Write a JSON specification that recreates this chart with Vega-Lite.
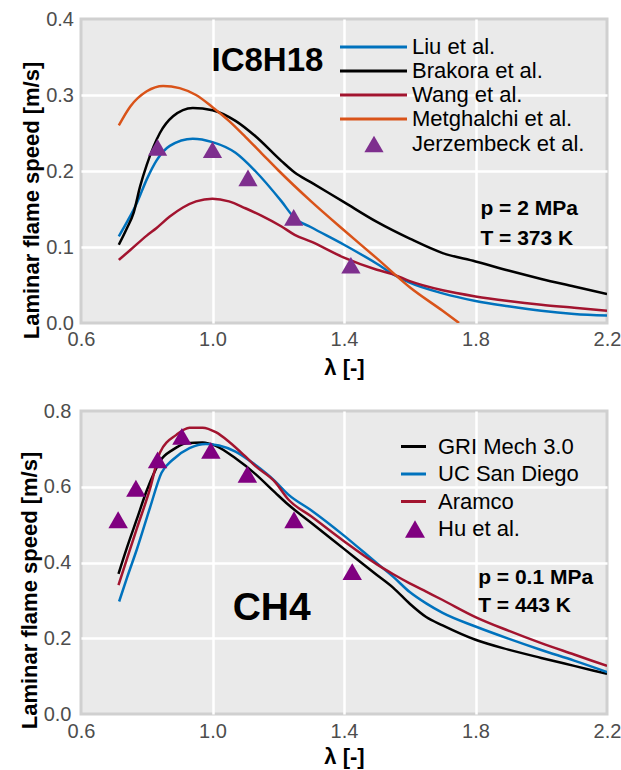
{
  "$schema": "https://vega.github.io/schema/vega-lite/v6.json",
  "padding": {"top": 7, "left": 16, "right": 0, "bottom": 0},
  "background": "white",
  "spacing": 19,
  "datasets": {
    "topLines": [
      {"m":"Liu et al.","l":0.715,"v":0.114},{"m":"Liu et al.","l":0.74,"v":0.133},{"m":"Liu et al.","l":0.77,"v":0.158},{"m":"Liu et al.","l":0.80,"v":0.189},{"m":"Liu et al.","l":0.83,"v":0.214},{"m":"Liu et al.","l":0.87,"v":0.233},{"m":"Liu et al.","l":0.94,"v":0.2425},{"m":"Liu et al.","l":1.00,"v":0.238},{"m":"Liu et al.","l":1.07,"v":0.224},{"m":"Liu et al.","l":1.13,"v":0.200},{"m":"Liu et al.","l":1.21,"v":0.160},{"m":"Liu et al.","l":1.25,"v":0.138},{"m":"Liu et al.","l":1.30,"v":0.126},{"m":"Liu et al.","l":1.40,"v":0.103},{"m":"Liu et al.","l":1.50,"v":0.078},{"m":"Liu et al.","l":1.55,"v":0.064},{"m":"Liu et al.","l":1.60,"v":0.053},{"m":"Liu et al.","l":1.70,"v":0.039},{"m":"Liu et al.","l":1.80,"v":0.029},{"m":"Liu et al.","l":1.90,"v":0.022},{"m":"Liu et al.","l":2.00,"v":0.016},{"m":"Liu et al.","l":2.10,"v":0.012},{"m":"Liu et al.","l":2.20,"v":0.010},
      {"m":"Brakora et al.","l":0.715,"v":0.103},{"m":"Brakora et al.","l":0.74,"v":0.125},{"m":"Brakora et al.","l":0.76,"v":0.145},{"m":"Brakora et al.","l":0.78,"v":0.180},{"m":"Brakora et al.","l":0.80,"v":0.208},{"m":"Brakora et al.","l":0.84,"v":0.250},{"m":"Brakora et al.","l":0.88,"v":0.272},{"m":"Brakora et al.","l":0.94,"v":0.283},{"m":"Brakora et al.","l":1.00,"v":0.280},{"m":"Brakora et al.","l":1.07,"v":0.266},{"m":"Brakora et al.","l":1.13,"v":0.246},{"m":"Brakora et al.","l":1.21,"v":0.213},{"m":"Brakora et al.","l":1.25,"v":0.198},{"m":"Brakora et al.","l":1.30,"v":0.185},{"m":"Brakora et al.","l":1.40,"v":0.159},{"m":"Brakora et al.","l":1.50,"v":0.133},{"m":"Brakora et al.","l":1.60,"v":0.111},{"m":"Brakora et al.","l":1.70,"v":0.092},{"m":"Brakora et al.","l":1.80,"v":0.081},{"m":"Brakora et al.","l":1.90,"v":0.069},{"m":"Brakora et al.","l":2.00,"v":0.058},{"m":"Brakora et al.","l":2.10,"v":0.048},{"m":"Brakora et al.","l":2.20,"v":0.038},
      {"m":"Wang et al.","l":0.715,"v":0.083},{"m":"Wang et al.","l":0.75,"v":0.096},{"m":"Wang et al.","l":0.80,"v":0.115},{"m":"Wang et al.","l":0.83,"v":0.125},{"m":"Wang et al.","l":0.87,"v":0.140},{"m":"Wang et al.","l":0.91,"v":0.152},{"m":"Wang et al.","l":0.95,"v":0.160},{"m":"Wang et al.","l":1.00,"v":0.1635},{"m":"Wang et al.","l":1.05,"v":0.160},{"m":"Wang et al.","l":1.10,"v":0.151},{"m":"Wang et al.","l":1.15,"v":0.141},{"m":"Wang et al.","l":1.21,"v":0.127},{"m":"Wang et al.","l":1.25,"v":0.116},{"m":"Wang et al.","l":1.30,"v":0.107},{"m":"Wang et al.","l":1.40,"v":0.086},{"m":"Wang et al.","l":1.50,"v":0.070},{"m":"Wang et al.","l":1.55,"v":0.064},{"m":"Wang et al.","l":1.60,"v":0.055},{"m":"Wang et al.","l":1.70,"v":0.043},{"m":"Wang et al.","l":1.80,"v":0.035},{"m":"Wang et al.","l":1.90,"v":0.029},{"m":"Wang et al.","l":2.00,"v":0.024},{"m":"Wang et al.","l":2.10,"v":0.020},{"m":"Wang et al.","l":2.20,"v":0.016},
      {"m":"Metghalchi et al.","l":0.715,"v":0.260},{"m":"Metghalchi et al.","l":0.75,"v":0.285},{"m":"Metghalchi et al.","l":0.80,"v":0.305},{"m":"Metghalchi et al.","l":0.85,"v":0.312},{"m":"Metghalchi et al.","l":0.90,"v":0.309},{"m":"Metghalchi et al.","l":0.95,"v":0.300},{"m":"Metghalchi et al.","l":1.00,"v":0.284},{"m":"Metghalchi et al.","l":1.05,"v":0.266},{"m":"Metghalchi et al.","l":1.10,"v":0.245},{"m":"Metghalchi et al.","l":1.15,"v":0.223},{"m":"Metghalchi et al.","l":1.20,"v":0.201},{"m":"Metghalchi et al.","l":1.30,"v":0.160},{"m":"Metghalchi et al.","l":1.40,"v":0.122},{"m":"Metghalchi et al.","l":1.50,"v":0.085},{"m":"Metghalchi et al.","l":1.60,"v":0.047},{"m":"Metghalchi et al.","l":1.70,"v":0.016},{"m":"Metghalchi et al.","l":1.75,"v":0.0}
    ],
    "topPts": [
      {"e":"Jerzembeck et al.","l":0.833,"v":0.231},{"e":"Jerzembeck et al.","l":1.0,"v":0.228},{"e":"Jerzembeck et al.","l":1.108,"v":0.191},{"e":"Jerzembeck et al.","l":1.247,"v":0.139},{"e":"Jerzembeck et al.","l":1.421,"v":0.076}
    ],
    "topFuel": [{"l":1.167,"v":0.345,"t":"IC8H18"}],
    "topCond": [{"l":1.815,"v":0.150,"t":"p = 2 MPa"},{"l":1.815,"v":0.1105,"t":"T = 373 K"}],
    "botLines": [
      {"m":"GRI Mech 3.0","l":0.714,"v":0.370},{"m":"GRI Mech 3.0","l":0.74,"v":0.440},{"m":"GRI Mech 3.0","l":0.77,"v":0.515},{"m":"GRI Mech 3.0","l":0.80,"v":0.590},{"m":"GRI Mech 3.0","l":0.82,"v":0.632},{"m":"GRI Mech 3.0","l":0.84,"v":0.667},{"m":"GRI Mech 3.0","l":0.88,"v":0.698},{"m":"GRI Mech 3.0","l":0.92,"v":0.715},{"m":"GRI Mech 3.0","l":0.97,"v":0.717},{"m":"GRI Mech 3.0","l":1.01,"v":0.708},{"m":"GRI Mech 3.0","l":1.07,"v":0.675},{"m":"GRI Mech 3.0","l":1.13,"v":0.634},{"m":"GRI Mech 3.0","l":1.19,"v":0.585},{"m":"GRI Mech 3.0","l":1.23,"v":0.553},{"m":"GRI Mech 3.0","l":1.30,"v":0.505},{"m":"GRI Mech 3.0","l":1.40,"v":0.436},{"m":"GRI Mech 3.0","l":1.50,"v":0.367},{"m":"GRI Mech 3.0","l":1.55,"v":0.333},{"m":"GRI Mech 3.0","l":1.60,"v":0.291},{"m":"GRI Mech 3.0","l":1.65,"v":0.256},{"m":"GRI Mech 3.0","l":1.70,"v":0.234},{"m":"GRI Mech 3.0","l":1.80,"v":0.196},{"m":"GRI Mech 3.0","l":1.90,"v":0.170},{"m":"GRI Mech 3.0","l":2.00,"v":0.148},{"m":"GRI Mech 3.0","l":2.10,"v":0.127},{"m":"GRI Mech 3.0","l":2.20,"v":0.106},
      {"m":"UC San Diego","l":0.716,"v":0.297},{"m":"UC San Diego","l":0.74,"v":0.360},{"m":"UC San Diego","l":0.77,"v":0.435},{"m":"UC San Diego","l":0.81,"v":0.545},{"m":"UC San Diego","l":0.845,"v":0.637},{"m":"UC San Diego","l":0.88,"v":0.672},{"m":"UC San Diego","l":0.93,"v":0.702},{"m":"UC San Diego","l":0.98,"v":0.713},{"m":"UC San Diego","l":1.02,"v":0.709},{"m":"UC San Diego","l":1.07,"v":0.693},{"m":"UC San Diego","l":1.13,"v":0.658},{"m":"UC San Diego","l":1.19,"v":0.615},{"m":"UC San Diego","l":1.23,"v":0.580},{"m":"UC San Diego","l":1.30,"v":0.538},{"m":"UC San Diego","l":1.40,"v":0.471},{"m":"UC San Diego","l":1.50,"v":0.398},{"m":"UC San Diego","l":1.55,"v":0.362},{"m":"UC San Diego","l":1.60,"v":0.322},{"m":"UC San Diego","l":1.65,"v":0.292},{"m":"UC San Diego","l":1.70,"v":0.267},{"m":"UC San Diego","l":1.80,"v":0.231},{"m":"UC San Diego","l":1.90,"v":0.199},{"m":"UC San Diego","l":2.00,"v":0.169},{"m":"UC San Diego","l":2.10,"v":0.141},{"m":"UC San Diego","l":2.20,"v":0.111},
      {"m":"Aramco","l":0.714,"v":0.340},{"m":"Aramco","l":0.74,"v":0.410},{"m":"Aramco","l":0.77,"v":0.490},{"m":"Aramco","l":0.81,"v":0.595},{"m":"Aramco","l":0.84,"v":0.690},{"m":"Aramco","l":0.89,"v":0.737},{"m":"Aramco","l":0.93,"v":0.756},{"m":"Aramco","l":0.97,"v":0.756},{"m":"Aramco","l":1.01,"v":0.744},{"m":"Aramco","l":1.05,"v":0.719},{"m":"Aramco","l":1.10,"v":0.680},{"m":"Aramco","l":1.13,"v":0.655},{"m":"Aramco","l":1.19,"v":0.613},{"m":"Aramco","l":1.23,"v":0.567},{"m":"Aramco","l":1.30,"v":0.522},{"m":"Aramco","l":1.40,"v":0.456},{"m":"Aramco","l":1.50,"v":0.395},{"m":"Aramco","l":1.55,"v":0.369},{"m":"Aramco","l":1.60,"v":0.345},{"m":"Aramco","l":1.65,"v":0.323},{"m":"Aramco","l":1.70,"v":0.301},{"m":"Aramco","l":1.80,"v":0.256},{"m":"Aramco","l":1.90,"v":0.220},{"m":"Aramco","l":2.00,"v":0.187},{"m":"Aramco","l":2.10,"v":0.157},{"m":"Aramco","l":2.20,"v":0.127}
    ],
    "botPts": [
      {"e":"Hu et al.","l":0.713,"v":0.513},{"e":"Hu et al.","l":0.767,"v":0.596},{"e":"Hu et al.","l":0.833,"v":0.671},{"e":"Hu et al.","l":0.907,"v":0.733},{"e":"Hu et al.","l":0.995,"v":0.696},{"e":"Hu et al.","l":1.106,"v":0.633},{"e":"Hu et al.","l":1.248,"v":0.513},{"e":"Hu et al.","l":1.425,"v":0.376}
    ],
    "botFuel": [{"l":1.18,"v":0.281,"t":"CH4"}],
    "botCond": [{"l":1.808,"v":0.359,"t":"p = 0.1 MPa"},{"l":1.808,"v":0.285,"t":"T = 443 K"}]
  },
  "vconcat": [
    {
      "width": 526, "height": 304,
      "encoding": {
        "x": {"field": "l", "type": "quantitative", "title": "λ [-]",
          "scale": {"domain": [0.6, 2.2], "nice": false, "zero": false},
          "axis": {"values": [0.6, 1.0, 1.4, 1.8, 2.2], "format": ".1f", "labelPadding": 6, "titleY": 34,
            "gridOpacity": {"condition": {"test": "datum.value < 0.65 || datum.value > 2.15", "value": 0}, "value": 1}}},
        "y": {"field": "v", "type": "quantitative", "title": "Laminar flame speed [m/s]",
          "scale": {"domain": [0, 0.4], "nice": false},
          "axis": {"values": [0, 0.1, 0.2, 0.3, 0.4], "format": ".1f", "labelPadding": 7.5, "titleX": -50, "titleY": 181, "titleBaseline": "middle", "titleAlign": "center",
            "gridOpacity": {"condition": {"test": "datum.value < 0.01 || datum.value > 0.39", "value": 0}, "value": 1}}}
      },
      "layer": [
        {
          "data": {"name": "topLines"},
          "mark": {"type": "line", "strokeWidth": 2.5, "interpolate": "monotone", "clip": true},
          "encoding": {
            "color": {"field": "m", "type": "nominal",
              "scale": {"domain": ["Liu et al.", "Brakora et al.", "Wang et al.", "Metghalchi et al."], "range": ["#0072BD", "#000000", "#A2142F", "#D95319"]},
              "legend": {"orient": "none", "legendX": 256, "legendY": 17, "title": null, "padding": 0,
                "symbolType": "M-1,0H7.375", "symbolSize": 256, "symbolStrokeWidth": 3,
                "labelOffset": 53, "rowPadding": 2, "labelFontSize": 22, "labelColor": "black", "labelLimit": 400}}
          }
        },
        {
          "data": {"name": "topPts"},
          "mark": {"type": "point", "filled": true, "size": 370, "opacity": 1, "color": "#7E2F8E", "strokeWidth": 0},
          "encoding": {
            "shape": {"field": "e", "type": "nominal",
              "scale": {"domain": ["Jerzembeck et al."], "range": ["triangle-up"]},
              "legend": {"orient": "none", "legendX": 282, "legendY": 114, "title": null, "padding": 0,
                "symbolSize": 370, "symbolFillColor": "#7E2F8E", "symbolStrokeWidth": 0,
                "labelOffset": 27, "labelFontSize": 22, "labelColor": "black", "labelLimit": 400}}
          }
        },
        {
          "data": {"name": "topFuel"},
          "mark": {"type": "text", "fontSize": 33, "fontWeight": "bold", "font": "Liberation Sans", "align": "center", "baseline": "middle", "color": "black"},
          "encoding": {"text": {"field": "t"}}
        },
        {
          "data": {"name": "topCond"},
          "mark": {"type": "text", "fontSize": 21, "fontWeight": "bold", "font": "Liberation Sans", "align": "left", "baseline": "middle", "color": "black"},
          "encoding": {"text": {"field": "t"}}
        }
      ]
    },
    {
      "width": 526, "height": 303,
      "encoding": {
        "x": {"field": "l", "type": "quantitative", "title": "λ [-]",
          "scale": {"domain": [0.6, 2.2], "nice": false, "zero": false},
          "axis": {"values": [0.6, 1.0, 1.4, 1.8, 2.2], "format": ".1f", "labelPadding": 7, "titleY": 32,
            "gridOpacity": {"condition": {"test": "datum.value < 0.65 || datum.value > 2.15", "value": 0}, "value": 1}}},
        "y": {"field": "v", "type": "quantitative", "title": "Laminar flame speed [m/s]",
          "scale": {"domain": [0, 0.8], "nice": false},
          "axis": {"values": [0, 0.2, 0.4, 0.6, 0.8], "format": ".1f", "labelPadding": 10, "titleX": -52, "titleY": 179, "titleBaseline": "middle", "titleAlign": "center",
            "gridOpacity": {"condition": {"test": "datum.value < 0.01 || datum.value > 0.79", "value": 0}, "value": 1}}}
      },
      "layer": [
        {
          "data": {"name": "botLines"},
          "mark": {"type": "line", "strokeWidth": 2.5, "interpolate": "monotone", "clip": true},
          "encoding": {
            "color": {"field": "m", "type": "nominal",
              "scale": {"domain": ["GRI Mech 3.0", "UC San Diego", "Aramco"], "range": ["#000000", "#0072BD", "#A2142F"]},
              "legend": {"orient": "none", "legendX": 321, "legendY": 24, "title": null, "padding": 0,
                "symbolType": "M-1.25,0H1.25", "symbolSize": 400, "symbolStrokeWidth": 3,
                "labelOffset": 13, "rowPadding": 4.5, "labelFontSize": 22, "labelColor": "black", "labelLimit": 400}}
          }
        },
        {
          "data": {"name": "botPts"},
          "mark": {"type": "point", "filled": true, "size": 380, "opacity": 1, "color": "#800080", "strokeWidth": 0},
          "encoding": {
            "shape": {"field": "e", "type": "nominal",
              "scale": {"domain": ["Hu et al."], "range": ["triangle-up"]},
              "legend": {"orient": "none", "legendX": 323, "legendY": 107, "title": null, "padding": 0,
                "symbolSize": 400, "symbolFillColor": "#800080", "symbolStrokeWidth": 0,
                "labelOffset": 12, "labelFontSize": 22, "labelColor": "black", "labelLimit": 400}}
          }
        },
        {
          "data": {"name": "botFuel"},
          "mark": {"type": "text", "fontSize": 39, "fontWeight": "bold", "font": "Liberation Sans", "align": "center", "baseline": "middle", "color": "black"},
          "encoding": {"text": {"field": "t"}}
        },
        {
          "data": {"name": "botCond"},
          "mark": {"type": "text", "fontSize": 21, "fontWeight": "bold", "font": "Liberation Sans", "align": "left", "baseline": "middle", "color": "black"},
          "encoding": {"text": {"field": "t"}}
        }
      ]
    }
  ],
  "resolve": {
    "scale": {"x": "independent", "y": "independent", "color": "independent", "shape": "independent"},
    "legend": {"color": "independent", "shape": "independent"}
  },
  "config": {
    "font": "Liberation Sans",
    "view": {"fill": "#EAEAEA", "stroke": "#D0D0D0", "strokeWidth": 3},
    "axis": {
      "domain": false, "ticks": false, "grid": true, "gridColor": "white", "gridWidth": 2.5,
      "labelFont": "Liberation Sans", "labelFontSize": 20, "labelColor": "#4D4D4D",
      "labelFlush": false, "labelOverlap": false,
      "titleFont": "Liberation Sans", "titleFontSize": 22, "titleFontWeight": "bold", "titleColor": "black"
    },
    "legend": {"labelFont": "Liberation Sans", "labelFontSize": 22, "labelColor": "black"}
  }
}
